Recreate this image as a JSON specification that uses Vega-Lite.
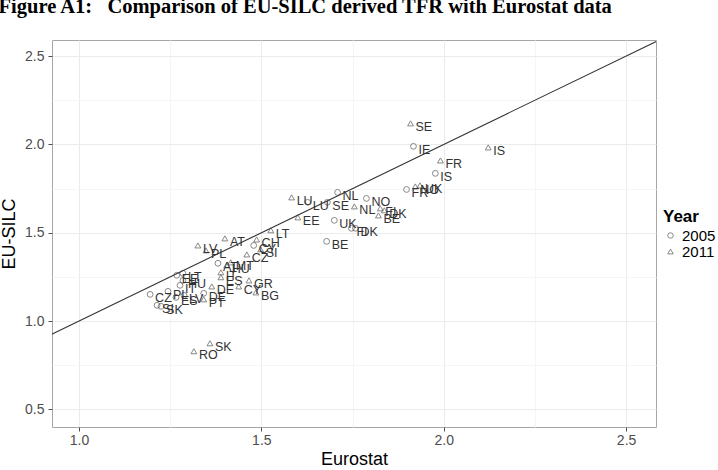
{
  "$schema": "https://vega.github.io/schema/vega-lite/v6.json",
  "autosize": "none",
  "width": 604,
  "height": 387,
  "padding": {"left": 52, "top": 40, "right": 62, "bottom": 43},
  "background": "white",
  "title": {
    "text": "Figure A1:\u00a0\u00a0\u00a0Comparison of EU-SILC derived TFR with Eurostat data",
    "font": "Liberation Serif",
    "fontWeight": "bold",
    "fontSize": 20.5,
    "color": "black",
    "anchor": "start",
    "baseline": "alphabetic",
    "dx": -2,
    "offset": 7
  },
  "config": {
    "view": {"stroke": "#a6a6a6", "strokeWidth": 1},
    "font": "Liberation Sans"
  },
  "datasets": {
    "pts": [
      {"country": "SE", "year": "2011", "x": 1.909, "y": 2.119},
      {"country": "IS", "year": "2011", "x": 2.122, "y": 1.983},
      {"country": "FR", "year": "2011", "x": 1.991, "y": 1.909},
      {"country": "NO", "year": "2011", "x": 1.922, "y": 1.762},
      {"country": "UK", "year": "2011", "x": 1.935, "y": 1.768},
      {"country": "LU", "year": "2011", "x": 1.583, "y": 1.700},
      {"country": "NL", "year": "2011", "x": 1.755, "y": 1.649},
      {"country": "FI", "year": "2011", "x": 1.826, "y": 1.638},
      {"country": "DK", "year": "2011", "x": 1.837, "y": 1.627},
      {"country": "BE", "year": "2011", "x": 1.821, "y": 1.598},
      {"country": "EE", "year": "2011", "x": 1.600, "y": 1.587},
      {"country": "LT", "year": "2011", "x": 1.526, "y": 1.514},
      {"country": "CH", "year": "2011", "x": 1.487, "y": 1.462},
      {"country": "AT", "year": "2011", "x": 1.400, "y": 1.468},
      {"country": "LV", "year": "2011", "x": 1.326, "y": 1.428},
      {"country": "PL", "year": "2011", "x": 1.348, "y": 1.400},
      {"country": "CZ", "year": "2011", "x": 1.460, "y": 1.377},
      {"country": "SI", "year": "2011", "x": 1.498, "y": 1.406},
      {"country": "MT", "year": "2011", "x": 1.416, "y": 1.332},
      {"country": "HU", "year": "2011", "x": 1.405, "y": 1.315},
      {"country": "IT", "year": "2011", "x": 1.389, "y": 1.276},
      {"country": "ES", "year": "2011", "x": 1.389, "y": 1.248},
      {"country": "GR", "year": "2011", "x": 1.466, "y": 1.230},
      {"country": "CY", "year": "2011", "x": 1.438, "y": 1.196},
      {"country": "BG", "year": "2011", "x": 1.485, "y": 1.162},
      {"country": "DE", "year": "2011", "x": 1.364, "y": 1.196},
      {"country": "PT", "year": "2011", "x": 1.342, "y": 1.123},
      {"country": "RO", "year": "2011", "x": 1.315, "y": 0.829},
      {"country": "SK", "year": "2011", "x": 1.359, "y": 0.874},
      {"country": "IE", "year": "2005", "x": 1.917, "y": 1.989},
      {"country": "IS", "year": "2005", "x": 1.977, "y": 1.836},
      {"country": "FR", "year": "2005", "x": 1.898, "y": 1.745},
      {"country": "NL", "year": "2005", "x": 1.709, "y": 1.728},
      {"country": "NO", "year": "2005", "x": 1.788, "y": 1.694},
      {"country": "LU", "year": "2005", "x": 1.627, "y": 1.672},
      {"country": "SE", "year": "2005", "x": 1.681, "y": 1.672},
      {"country": "UK", "year": "2005", "x": 1.700, "y": 1.570},
      {"country": "FI", "year": "2005", "x": 1.747, "y": 1.525},
      {"country": "DK", "year": "2005", "x": 1.758, "y": 1.525},
      {"country": "BE", "year": "2005", "x": 1.679, "y": 1.451},
      {"country": "CY", "year": "2005", "x": 1.479, "y": 1.428},
      {"country": "AT", "year": "2005", "x": 1.381, "y": 1.327},
      {"country": "EE", "year": "2005", "x": 1.268, "y": 1.259},
      {"country": "LT", "year": "2005", "x": 1.285, "y": 1.270},
      {"country": "HU", "year": "2005", "x": 1.285, "y": 1.230},
      {"country": "IT", "year": "2005", "x": 1.277, "y": 1.202},
      {"country": "DE", "year": "2005", "x": 1.342, "y": 1.157},
      {"country": "CZ", "year": "2005", "x": 1.195, "y": 1.151},
      {"country": "PL", "year": "2005", "x": 1.244, "y": 1.168},
      {"country": "LV", "year": "2005", "x": 1.288, "y": 1.145},
      {"country": "ES", "year": "2005", "x": 1.266, "y": 1.134},
      {"country": "SI", "year": "2005", "x": 1.214, "y": 1.089},
      {"country": "SK", "year": "2005", "x": 1.225, "y": 1.083}
    ],
    "diag": [
      {"x": 0.9, "y": 0.9},
      {"x": 2.6, "y": 2.6}
    ]
  },
  "encoding": {
    "x": {
      "field": "x",
      "type": "quantitative",
      "scale": {"domain": [0.926, 2.582], "nice": false, "zero": false},
      "axis": {
        "title": "Eurostat",
        "values": [1, 1.25, 1.5, 1.75, 2, 2.25, 2.5],
        "labelExpr": "(datum.value*4)%2==0 ? format(datum.value,'.1f') : ''",
        "gridColor": {"condition": {"test": "(datum.value*4)%2!=0", "value": "#f5f5f5"}, "value": "#ebebeb"},
        "tickOpacity": {"condition": {"test": "(datum.value*4)%2!=0", "value": 0}, "value": 1},
        "domain": false,
        "tickColor": "#4d4d4d",
        "tickSize": 4,
        "labelFont": "Liberation Sans",
        "labelFontSize": 14,
        "labelColor": "#4d4d4d",
        "labelPadding": 2,
        "labelOverlap": false,
        "titleFont": "Liberation Sans",
        "titleFontSize": 18,
        "titleFontWeight": "normal",
        "titleColor": "black",
        "titlePadding": 3
      }
    },
    "y": {
      "field": "y",
      "type": "quantitative",
      "scale": {"domain": [0.4, 2.591], "nice": false, "zero": false},
      "axis": {
        "title": "EU-SILC",
        "values": [0.5, 0.75, 1, 1.25, 1.5, 1.75, 2, 2.25, 2.5],
        "labelExpr": "(datum.value*4)%2==0 ? format(datum.value,'.1f') : ''",
        "gridColor": {"condition": {"test": "(datum.value*4)%2!=0", "value": "#f5f5f5"}, "value": "#ebebeb"},
        "tickOpacity": {"condition": {"test": "(datum.value*4)%2!=0", "value": 0}, "value": 1},
        "domain": false,
        "tickColor": "#4d4d4d",
        "tickSize": 4,
        "labelFont": "Liberation Sans",
        "labelFontSize": 14,
        "labelColor": "#4d4d4d",
        "labelPadding": 4,
        "labelOverlap": false,
        "titleFont": "Liberation Sans",
        "titleFontSize": 18,
        "titleFontWeight": "normal",
        "titleColor": "black",
        "titlePadding": 6
      }
    }
  },
  "layer": [
    {
      "data": {"name": "diag"},
      "mark": {"type": "line", "clip": true, "color": "#333333", "strokeWidth": 1.1},
      "encoding": {}
    },
    {
      "data": {"name": "pts"},
      "mark": {"type": "point", "filled": false, "size": 34, "strokeWidth": 0.9},
      "encoding": {
        "shape": {
          "field": "year",
          "type": "nominal",
          "scale": {"domain": ["2005", "2011"], "range": ["circle", "triangle-up"]},
          "legend": {
            "title": "Year",
            "orient": "none",
            "legendX": 611,
            "legendY": 169,
            "titleFont": "Liberation Sans",
            "titleFontSize": 17,
            "titleFontWeight": "bold",
            "titleColor": "black",
            "titlePadding": 2,
            "labelFont": "Liberation Sans",
            "labelFontSize": 15,
            "labelColor": "black",
            "labelOffset": 4,
            "rowPadding": 0,
            "symbolSize": 30,
            "symbolStrokeColor": "#444444",
            "symbolStrokeWidth": 0.9,
            "symbolFillColor": "transparent"
          }
        },
        "color": {"value": "#444444"}
      }
    },
    {
      "data": {"name": "pts"},
      "mark": {"type": "text", "align": "left", "baseline": "top", "dx": 5, "dy": -2, "fontSize": 12.5, "font": "Liberation Sans", "color": "#333333"},
      "encoding": {
        "text": {"field": "country", "type": "nominal"}
      }
    }
  ]
}
